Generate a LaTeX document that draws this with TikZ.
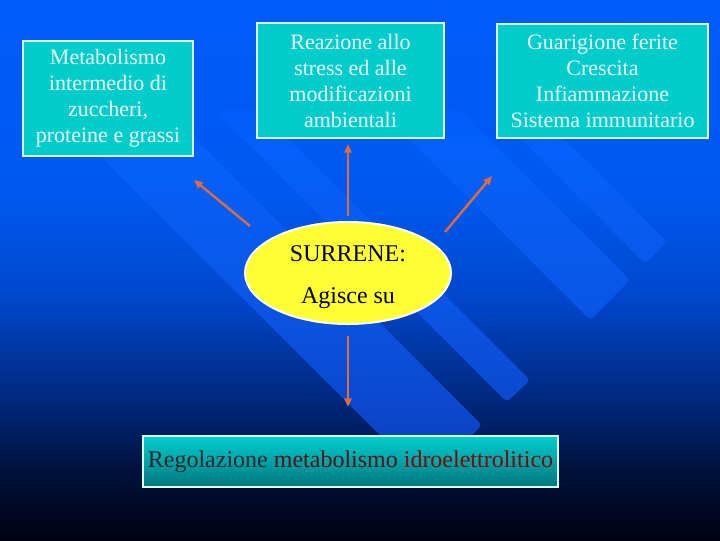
\documentclass[tikz,border=0pt]{standalone}
\usepackage{fontspec}
\setmainfont{Liberation Serif}
\usetikzlibrary{arrows.meta,shapes.geometric}

\definecolor{bgone}{RGB}{0,92,250}
\definecolor{bgtwo}{RGB}{0,88,238}
\definecolor{bgthree}{RGB}{0,70,202}
\definecolor{bgfour}{RGB}{0,40,125}
\definecolor{bgfive}{RGB}{0,18,60}
\definecolor{bgsix}{RGB}{0,2,18}
\definecolor{bandone}{RGB}{1,92,249}
\definecolor{bandtwo}{RGB}{5,97,250}
\definecolor{bandthree}{RGB}{10,86,230}
\definecolor{bandfour}{RGB}{12,68,200}
\definecolor{bandfive}{RGB}{12,60,188}
\definecolor{boxfill}{RGB}{0,204,204}
\definecolor{boxline}{RGB}{220,255,255}
\definecolor{boxtext}{RGB}{238,255,255}
\definecolor{glandfill}{RGB}{255,255,51}
\definecolor{arrowc}{RGB}{222,108,60}
\definecolor{regotop}{RGB}{0,206,206}
\definecolor{regobot}{RGB}{0,118,124}
\definecolor{regoa}{RGB}{35,40,45}
\definecolor{regob}{RGB}{85,20,25}
\definecolor{regoc}{RGB}{125,10,10}

\pgfdeclareverticalshading{slidebg}{100bp}{color(0bp)=(bgsix); color(25bp)=(bgsix); color(31.5bp)=(bgfive); color(38bp)=(bgfour); color(47.2bp)=(bgthree); color(56.5bp)=(bgtwo); color(75bp)=(bgone); color(100bp)=(bgone)}
\pgfdeclareverticalshading{bandsh}{100bp}{color(0bp)=(bandfive); color(25bp)=(bandfive); color(31.9bp)=(bandfour); color(49.4bp)=(bandthree); color(69.6bp)=(bandtwo); color(75bp)=(bandone); color(100bp)=(bandone)}

\tikzset{every picture/.style={line width=0.75pt}}
\tikzset{
  tealbox/.style={draw=boxline, line width=1.5, fill=boxfill, text=boxtext, align=center,
    inner sep=0, outer sep=0, font=\fontsize{16.5}{19.5}\selectfont},
  gland/.style={ellipse, draw=white, line width=1.5, fill=glandfill, align=center,
    inner sep=0, outer sep=0, font=\fontsize{18}{31.5}\selectfont},
  link/.style={draw=arrowc, line width=1.8, -{Triangle[length=6.5pt,width=5.5pt]}}
}

\begin{document}
\begin{tikzpicture}[x=0.75pt,y=0.75pt,yscale=-1,xscale=1]

	% Background
	\shade[shading=slidebg] (0,0) rectangle (720,540);
	% Stripes
	\shade[shading=bandsh, rounded corners=3pt]
		(54,110) -- (167,110) -- (482,425) -- (426,481) -- cycle
		(215,110) -- (260,110) -- (530,380) -- (507,402) -- cycle
		(380,110) -- (460,110) -- (630,280) -- (590,320) -- cycle
		(493,110) -- (535,110) -- (667,242) -- (645,264) -- cycle;

	% Text Node
	\node[tealbox, minimum width=127.5pt, minimum height=86.25pt] (metab) at (108,98.5) {Metabolismo\\intermedio di\\zuccheri,\\proteine e grassi};
	% Text Node
	\node[tealbox, minimum width=140.25pt, minimum height=86.25pt] (stress) at (350.5,80.5) {Reazione allo\\stress ed alle\\modificazioni\\ambientali};
	% Text Node
	\node[tealbox, minimum width=158.25pt, minimum height=85.5pt] (guar) at (602.5,81) {Guarigione ferite\\Crescita\\Infiammazione\\Sistema immunitario};
	% Text Node
	\node[gland, minimum width=154.5pt, minimum height=76.5pt] (surrene) at (348,273) {\rule{0pt}{17.5pt}SURRENE:\\Agisce su};
	% Text Node
	\node[draw=boxline, line width=1.5, top color=regotop, bottom color=regobot, inner sep=0, outer sep=0,
		minimum width=311.25pt, minimum height=38.25pt, font=\fontsize{18}{21}\selectfont] (rego) at (350.5,461.5)
		{\textcolor{regoa}{Regolazione} \textcolor{regob}{metabolismo} \textcolor{regoc}{idroelettrolitico}};

	% Connection
	\draw[link] ([shift={(5,-47)}]surrene.west) -- ([shift={(1,24)}]metab.south east);
	% Connection
	\draw[link, shorten <=4.5pt, shorten >=4.5pt] (surrene.north) -- (surrene.north |- stress.south);
	% Connection
	\draw[link] ([shift={(-6,-41)}]surrene.east) -- ([shift={(-5,38)}]guar.south west);
	% Connection
	\draw[link, shorten <=9pt, shorten >=21.75pt] (surrene.south) -- (surrene.south |- rego.north);

\end{tikzpicture}
\end{document}
